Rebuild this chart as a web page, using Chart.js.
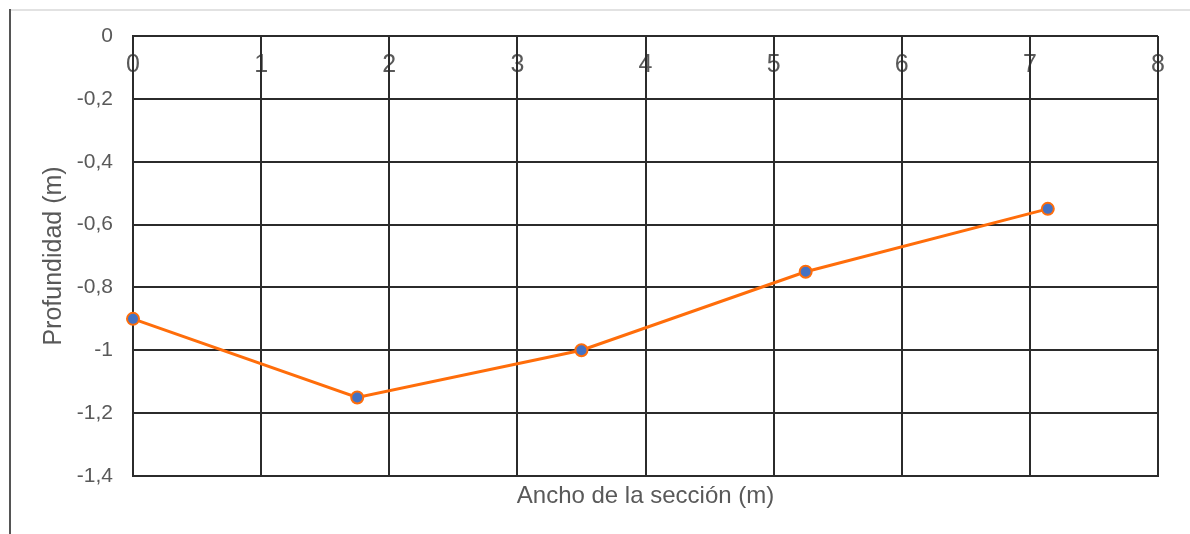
<!DOCTYPE html>
<html>
<head>
<meta charset="utf-8">
<script src="https://cdn.jsdelivr.net/npm/chart.js@4/dist/chart.umd.min.js"></script>
<style>
  html, body { margin: 0; padding: 0; background: #fff; }
  #wrap { position: relative; width: 1190px; height: 534px; overflow: hidden; }
  #topline { position: absolute; left: 10px; top: 9px; width: 1180px; height: 2px; background: #e2e2e2; }
  #leftline { position: absolute; left: 9px; top: 9px; width: 2px; height: 525px; background: #555; }
  #box { position: absolute; left: 0; top: 0; width: 1190px; height: 534px; }
</style>
</head>
<body>
<div id="wrap">
  <div id="topline"></div>
  <div id="leftline"></div>
  <div id="box"><canvas id="c"></canvas></div>
</div>
<script>
const anchoSeccion = [0, 1.75, 3.5, 5.25, 7.14];
const profundidad = [-0.9, -1.15, -1.0, -0.75, -0.55];
const xTitle = 'Ancho de la sección (m)';
const yTitle = 'Profundidad (m)';
const xMin = 0, xMax = 8, xStep = 1;
const yMin = -1.4, yMax = 0, yStep = 0.2;

const fmt = v => {
  const r = Math.round(v * 10) / 10;
  if (Math.abs(r) < 1e-9) return '0';
  return String(r).replace('.', ',');
};

const labelColor = '#595959';
const gridColor = '#2b2b2b';
const FONT = 'Liberation Sans, Arial, Helvetica, sans-serif';

new Chart(document.getElementById('c'), {
  type: 'line',
  data: {
    datasets: [{
      data: anchoSeccion.map((x, i) => ({ x: x, y: profundidad[i] })),
      borderColor: '#ff6d0a',
      borderWidth: 3,
      backgroundColor: '#4472c4',
      pointBackgroundColor: '#4472c4',
      pointBorderColor: '#ff6d0a',
      pointBorderWidth: 2,
      pointRadius: 6,
      tension: 0,
      fill: false,
      clip: false
    }]
  },
  options: {
    responsive: true,
    maintainAspectRatio: false,
    devicePixelRatio: 1,
    animation: false,
    layout: { padding: { left: 0, right: 32, top: 36, bottom: 0 } },
    plugins: { legend: { display: false }, tooltip: { enabled: false } },
    scales: {
      x: {
        type: 'linear',
        position: 'bottom',
        min: xMin, max: xMax,
        grid: { color: gridColor, lineWidth: 2, drawTicks: false },
        border: { color: gridColor, width: 2 },
        ticks: { display: false, stepSize: xStep },
        title: {
          display: true,
          text: xTitle,
          color: labelColor,
          font: { family: FONT, size: 24 },
          padding: { top: 0, bottom: 23 }
        },
        afterFit: s => { s.height = 58; }
      },
      xTop: {
        type: 'linear',
        position: { y: 0 },
        min: xMin, max: xMax,
        grid: { display: false, drawTicks: false },
        border: { display: false },
        ticks: {
          stepSize: xStep,
          padding: 14,
          color: labelColor,
          font: { family: FONT, size: 25 },
          maxRotation: 0,
          autoSkip: false,
          z: -2
        }
      },
      y: {
        type: 'linear',
        position: 'left',
        min: yMin, max: yMax,
        grid: { color: gridColor, lineWidth: 2, drawTicks: false },
        border: { color: gridColor, width: 2 },
        ticks: {
          stepSize: yStep,
          padding: 20,
          color: labelColor,
          font: { family: FONT, size: 21 },
          callback: v => fmt(v)
        },
        title: {
          display: true,
          text: yTitle,
          color: labelColor,
          font: { family: FONT, size: 25 },
          padding: { top: 39, bottom: 0 }
        },
        afterFit: s => { s.width = 133; }
      }
    }
  }
});
</script>
</body>
</html>
